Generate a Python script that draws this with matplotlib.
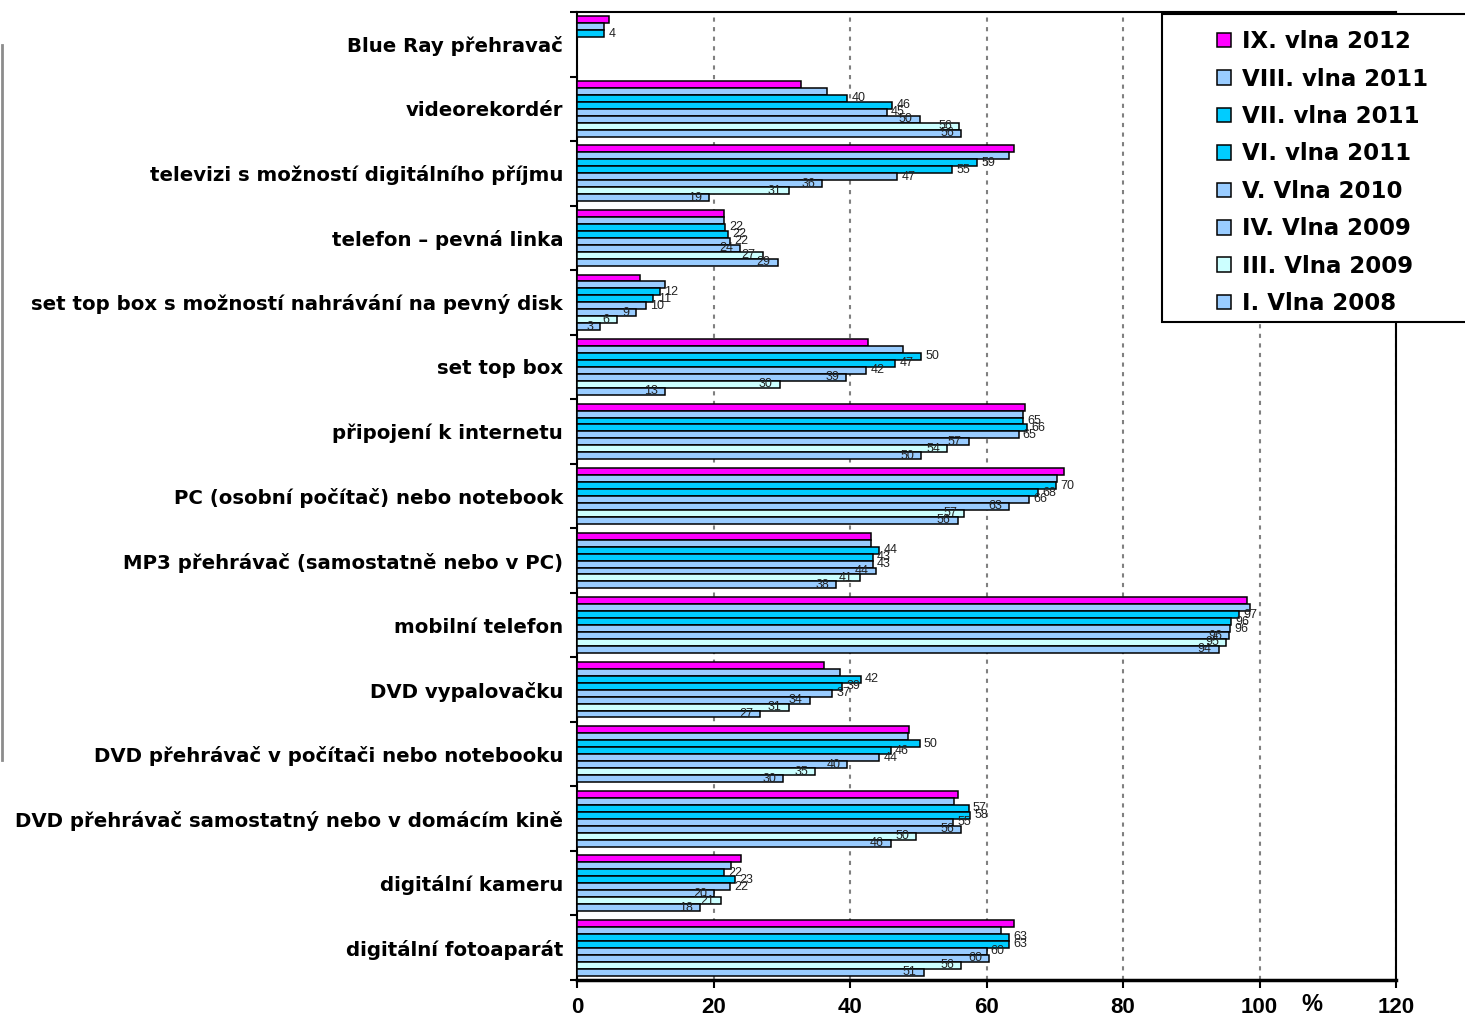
import matplotlib
matplotlib.use('agg')
import matplotlib.pyplot as plt
import numpy as np
from matplotlib.patches import Rectangle
from matplotlib.lines import Line2D

# categories, top to bottom
categories = ['Blue Ray přehravač',
              'videorekordér',
              'televizi s možností digitálního příjmu',
              'telefon – pevná linka',
              'set top box s možností nahrávání na pevný disk',
              'set top box',
              'připojení k internetu',
              'PC (osobní počítač) nebo notebook',
              'MP3 přehrávač (samostatně nebo v PC)',
              'mobilní telefon',
              'DVD vypalovačku',
              'DVD přehrávač v počítači nebo notebooku',
              'DVD přehrávač samostatný nebo v domácím kině',
              'digitální kameru',
              'digitální fotoaparát']

nan = np.nan
vlna_ix_2012 = [4.7, 32.8, 64.0, 21.5, 9.3, 42.7, 65.6, 71.3, 43.1, 98.2, 36.2, 48.7, 55.8, 24.1, 64.0]
vlna_viii_2011 = [4.0, 36.6, 63.3, 21.5, 12.9, 47.8, 65.4, 70.4, 43.1, 98.6, 38.6, 48.5, 55.3, 22.5, 62.1]
vlna_vii_2011 = [4.0, 39.6, 58.6, 21.7, 12.2, 50.4, 65.4, 70.2, 44.3, 97.0, 41.6, 50.2, 57.4, 21.6, 63.3]
vlna_vi_2011 = [nan, 46.2, 55.0, 22.1, 11.2, 46.6, 66.0, 67.6, 43.3, 95.8, 38.9, 46.0, 57.6, 23.2, 63.3]
vlna_v_2010 = [nan, 45.4, 46.9, 22.4, 10.1, 42.4, 64.7, 66.2, 43.3, 95.7, 37.4, 44.3, 55.1, 22.4, 60.0]
vlna_iv_2009 = [nan, 50.2, 35.9, 23.9, 8.7, 39.4, 57.4, 63.3, 43.8, 95.6, 34.1, 39.6, 56.3, 20.1, 60.4]
vlna_iii_2009 = [nan, 56.0, 31.0, 27.2, 5.8, 29.7, 54.2, 56.7, 41.4, 95.1, 31.0, 34.9, 49.7, 21.1, 56.3]
vlna_i_2008 = [nan, 56.3, 19.4, 29.4, 3.4, 12.9, 50.4, 55.8, 38.0, 94.0, 26.8, 30.2, 46.0, 18.0, 50.8]

series = [vlna_ix_2012, vlna_viii_2011, vlna_vii_2011, vlna_vi_2011,
          vlna_v_2010, vlna_iv_2009, vlna_iii_2009, vlna_i_2008]
names = ['IX. vlna 2012', 'VIII. vlna 2011', 'VII. vlna 2011', 'VI. vlna 2011',
         'V. Vlna 2010', 'IV. Vlna 2009', 'III. Vlna 2009', 'I. Vlna 2008']
colors = ['#FF00FF', '#99CCFF', '#00CCFF', '#00CCFF',
          '#99CCFF', '#99CCFF', '#CCFFFF', '#99CCFF']

W, H = 1465, 1019
fig = plt.figure(figsize=(W / 100, H / 100), dpi=100)
ax = fig.add_axes([577 / W, 1 - 980 / H, (1396 - 577) / W, (980 - 12) / H])

n = len(categories)
h = 0.108
handles = []
for j, (vals, name, col) in enumerate(zip(series, names, colors)):
    ypos = np.arange(n) + (j - 3.5) * h
    vals = np.array(vals, dtype=float)
    bars = ax.barh(ypos, vals, height=h, color=col, edgecolor='black',
                   linewidth=1.1, label=name, zorder=3)
    handles.append(bars)
    if j < 2:
        continue
    # first three labelled series sit outside the bar end, the rest just inside
    for y, v in zip(ypos, vals):
        if np.isnan(v):
            continue
        if j < 5:
            ax.annotate('%.0f' % v, (v, y), xytext=(3, 0), textcoords='offset points',
                        ha='left', va='center', fontsize=9, color='#222222',
                        family='Liberation Sans', zorder=4)
        else:
            ax.annotate('%.0f' % v, (v, y), xytext=(-5, 0), textcoords='offset points',
                        ha='right', va='center', fontsize=9, color='#222222',
                        family='Liberation Sans', zorder=4)

ax.set_xlim(0, 120)
ax.set_ylim(n - 0.5, -0.5)
ax.set_xticks(range(0, 121, 20))
ax.set_xticklabels([str(v) for v in range(0, 121, 20)])
ax.set_yticks(np.arange(n))
ax.set_yticklabels(categories)
ax.set_yticks(np.arange(n + 1) - 0.5, minor=True)

ax.set_axisbelow(True)
ax.grid(axis='x', linestyle=(0, (2, 2.6)), color='#808080', linewidth=1.5)

for s in ['left', 'right', 'top']:
    ax.spines[s].set_linewidth(1.5)
ax.spines['bottom'].set_linewidth(2.5)

ax.tick_params(axis='y', which='major', length=0, pad=10)
ax.tick_params(axis='y', which='minor', length=5, width=1.5, direction='out')
ax.tick_params(axis='x', length=6, width=1.5, direction='out', pad=6)

for lbl in ax.get_yticklabels():
    lbl.set_fontfamily('DejaVu Sans')
    lbl.set_fontweight('bold')
    lbl.set_fontsize(14.2)
for lbl in ax.get_xticklabels():
    lbl.set_fontfamily(['Liberation Sans Narrow', 'Liberation Sans'])
    lbl.set_fontweight('bold')
    lbl.set_fontsize(16)

ax.text(107.7, -0.025, '%', transform=ax.get_xaxis_transform(), ha='center', va='center',
        fontsize=17, fontweight='bold', family=['Liberation Sans Narrow', 'Liberation Sans'])

# legend box (runs past the right edge)
fig.add_artist(Rectangle((1162 / W, 1 - 322 / H), (1480 - 1162) / W, (322 - 14) / H,
                         transform=fig.transFigure, facecolor='white',
                         edgecolor='black', linewidth=1.5))
fig.legend(handles, names, loc='upper left', bbox_to_anchor=(1208 / W, 1 - 21 / H),
           frameon=False, prop={'family': 'DejaVu Sans', 'weight': 'bold', 'size': 16.5},
           handlelength=0.6, handleheight=0.6, handletextpad=0.5, labelspacing=0.63,
           borderaxespad=0)

# grey rule on the left edge
fig.add_artist(Line2D([2 / W, 2 / W], [1 - 45 / H, 1 - 760 / H], color='#8c8c8c',
                      linewidth=2, transform=fig.transFigure))

fig.savefig('out.png', dpi=100)
